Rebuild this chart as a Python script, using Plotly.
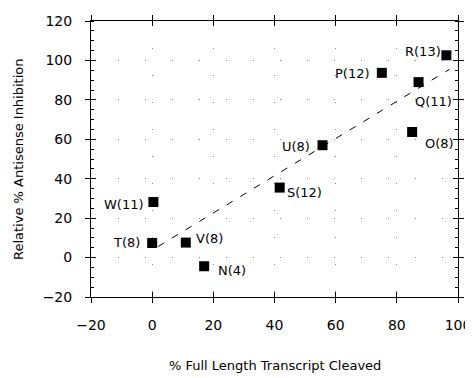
import numpy as np
import plotly.graph_objects as go

labels = ["W(11)", "T(8)", "V(8)", "N(4)", "S(12)", "U(8)", "P(12)", "Q(11)", "O(8)", "R(13)"]
cleaved = [0.4, 0.0, 11.0, 17.0, 41.7, 55.7, 75.1, 87.1, 85.0, 96.2]
inhibition = [28.2, 7.4, 7.6, -4.4, 35.5, 57.0, 93.7, 89.0, 63.7, 102.6]
# label placement (anchor side, x offset px, y offset px)
label_anchor = ["right", "right", "left", "left", "left", "right", "right", "left", "left", "right"]
label_dx = [-7, -10, 8, 12, 5, -11, -10, -6, 11, -3]
label_dy = [-3, 0, 4, -4, -5, -1, -1, -19, -12, 4]

x_ticks = [-20, 0, 20, 40, 60, 80, 100]
y_ticks = [-20, 0, 20, 40, 60, 80, 100, 120]

slope, intercept = np.polyfit(cleaved, inhibition, 1)
fit_x = np.array([min(cleaved) + 2.0, max(cleaved) + 1.0])
fit_y = slope * fit_x + intercept

FONT = "DejaVu Sans, Verdana, sans-serif"

fig = go.Figure()
fig.add_trace(go.Scatter(
    x=fit_x, y=fit_y, mode="lines",
    line=dict(color="black", width=1, dash="7px,9px"),
    showlegend=False, hoverinfo="skip"))
fig.add_trace(go.Scatter(
    x=cleaved, y=inhibition, mode="markers",
    marker=dict(symbol="square", size=10, color="black"),
    cliponaxis=False, showlegend=False))
fig.add_trace(go.Scatter(x=[-20, 100], y=[-20, 120], xaxis="x2", yaxis="y2",
                         mode="markers", marker=dict(opacity=0), showlegend=False,
                         hoverinfo="skip"))

annotations = []
for lab, xv, yv, anc, dx, dy in zip(labels, cleaved, inhibition, label_anchor, label_dx, label_dy):
    annotations.append(dict(text=lab, x=xv, y=yv, xref="x", yref="y", showarrow=False,
                            xanchor=anc, yanchor="middle", xshift=dx, yshift=dy,
                            font=dict(family=FONT, size=13, color="black")))
annotations += [
    dict(text="% Full Length Transcript Cleaved", xref="paper", yref="paper",
         x=0.5, y=0, yshift=-68, showarrow=False, xanchor="center", yanchor="middle",
         font=dict(family=FONT, size=13)),
    dict(text="Relative % Antisense Inhibition", xref="paper", yref="paper",
         x=0, y=0.5, xshift=-73, textangle=-90, showarrow=False,
         xanchor="center", yanchor="middle", font=dict(family=FONT, size=13)),
]

# the page body keeps an 8px margin, so the figure is sized to fit inside the window
grid = dict(showgrid=True, gridcolor="#8a8a8a", gridwidth=1, griddash="1px,26px")
fig.update_layout(
    width=465, height=370,
    margin=dict(l=83, r=15, t=13, b=81),
    paper_bgcolor="white", plot_bgcolor="white",
    font=dict(family=FONT, size=14, color="black"),
    xaxis=dict(range=[-20, 100], tickvals=x_ticks, ticks="outside", ticklen=5,
               tickcolor="black", showline=True, linecolor="black", linewidth=1,
               mirror="ticks", zeroline=False, ticklabelstandoff=10, automargin=False,
               tickfont=dict(size=14), **grid),
    yaxis=dict(range=[-20, 120], tickvals=y_ticks, ticks="outside", ticklen=5,
               tickcolor="black", showline=True, linecolor="black", linewidth=1,
               mirror="ticks", zeroline=False, ticklabelstandoff=10, automargin=False,
               tickfont=dict(size=14),
               minor=dict(dtick=5, ticks="inside", ticklen=3, tickcolor="black", showgrid=False),
               **grid),
    xaxis2=dict(overlaying="x", range=[-20, 100], tickvals=x_ticks,
                ticks="inside", ticklen=5, tickcolor="black", showticklabels=False,
                showgrid=False, zeroline=False, mirror="ticks", showline=False,
                automargin=False),
    yaxis2=dict(overlaying="y", range=[-20, 120], tickvals=y_ticks,
                ticks="inside", ticklen=5, tickcolor="black", showticklabels=False,
                showgrid=False, zeroline=False, mirror="ticks", showline=False,
                automargin=False),
    annotations=annotations,
)
fig.write_html("out.html")
